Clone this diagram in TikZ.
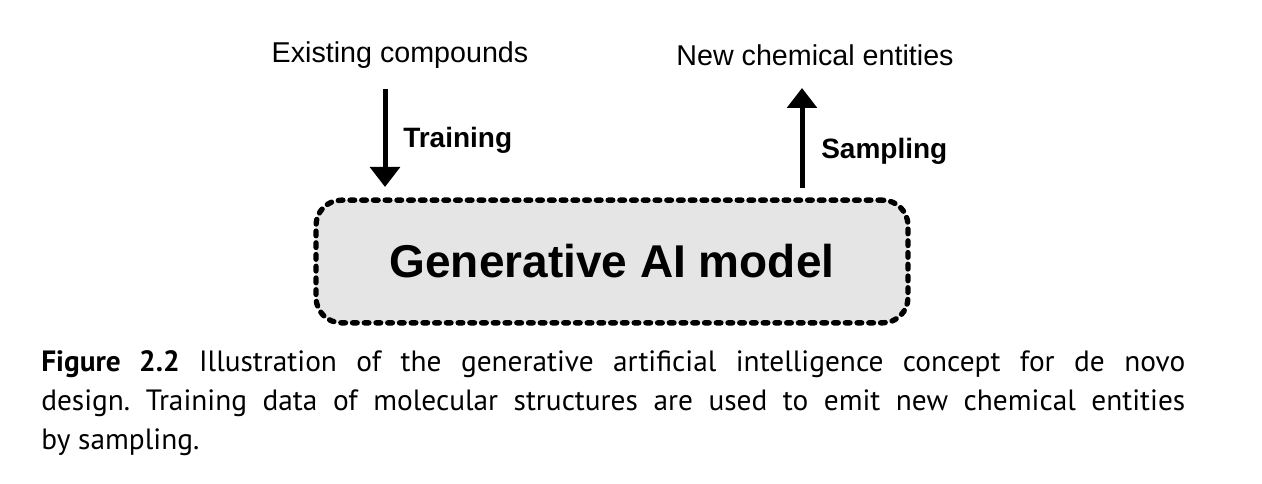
\documentclass[tikz,border=0pt]{standalone}
\usepackage{fontspec}
\setmainfont{Liberation Sans}
\newfontfamily\capfont{PT Sans}
\usetikzlibrary{arrows.meta}

\tikzset{
  bigarrow/.style={line width=3.75pt, -{Triangle[width=22pt,length=15pt]}},
  modelbox/.style={draw, fill=black!10, line width=4pt, line cap=round,
    dash pattern=on 3.5pt off 5.3pt, rounded corners=19pt,
    minimum width=444pt, minimum height=92pt,
    font=\fontsize{34.5pt}{40pt}\selectfont\bfseries},
  toplabel/.style={font=\fontsize{21.5pt}{26pt}\selectfont, inner sep=0pt, anchor=base},
  steplabel/.style={font=\fontsize{21pt}{26pt}\selectfont\bfseries, inner sep=0pt, anchor=base west},
}

\begin{document}
\begin{tikzpicture}[x=0.75pt,y=-0.75pt]

\useasboundingbox (0, 0) rectangle (1262, 484);

% model box
\node [modelbox] (model) at (612, 261.5) {Generative AI model};

% inputs and outputs
\node [toplabel] (existing) at (400, 63) {Existing compounds};
\node [toplabel] (newchem) at (815, 66) {New chemical entities};

\coordinate (trainstart) at (385, 89);
\coordinate (trainend) at (385, 187);
\coordinate (sampstart) at (802, 188);
\coordinate (sampend) at (802, 88);

\draw [bigarrow] (trainstart) -- (trainend);
\draw [bigarrow] (sampstart) -- (sampend);

\node [steplabel] (training) at (403, 148) {Training};
\node [steplabel] (sampling) at (821, 159) {Sampling};

% caption
\node [anchor=north west, inner sep=0pt, text width=858pt, align=justify,
  font=\capfont\fontsize{22pt}{29.25pt}\selectfont\frenchspacing] (caption) at (41, 350)
  {\textbf{Figure 2.2} Illustration of the generative artificial intelligence concept for de novo\linebreak
   design. Training data of molecular structures are used to emit new chemical entities\linebreak
   by sampling.};

\end{tikzpicture}
\end{document}
